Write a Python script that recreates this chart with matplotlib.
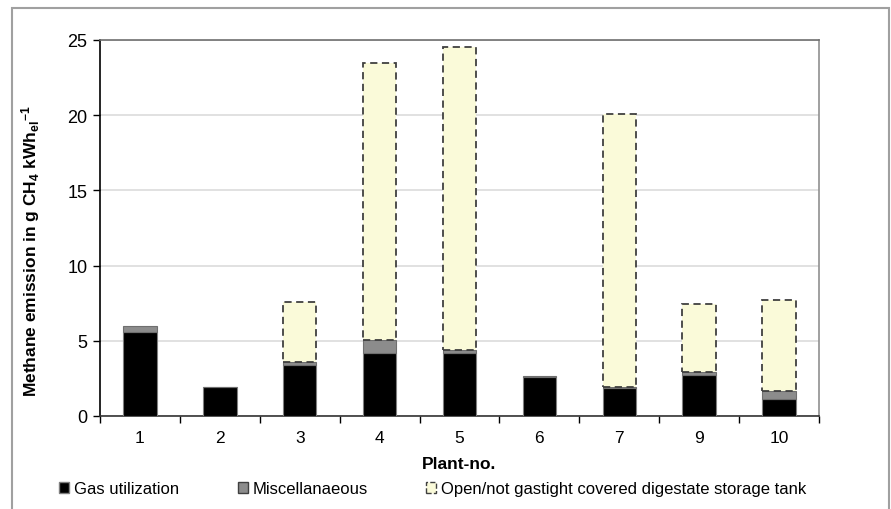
import numpy as np
import matplotlib.pyplot as plt
from matplotlib.patches import Patch, Rectangle

plt.rcParams['font.family'] = ['Liberation Sans', 'DejaVu Sans']
plt.rcParams['mathtext.fontset'] = 'custom'
plt.rcParams['mathtext.rm'] = 'Liberation Sans:bold'
plt.rcParams['mathtext.bf'] = 'Liberation Sans:bold'
plt.rcParams['mathtext.it'] = 'Liberation Sans:bold'

# methane emission per plant, g CH4 per kWh_el
plants = ['1', '2', '3', '4', '5', '6', '7', '9', '10']
gas_utilization = [5.6, 1.9, 3.4, 4.2, 4.2, 2.6, 1.85, 2.75, 1.15]
miscellaneous = [0.4, 0.05, 0.2, 0.85, 0.22, 0.05, 0.05, 0.15, 0.5]
storage_tank = [0.0, 0.0, 3.95, 18.4, 20.1, 0.0, 18.2, 4.55, 6.05]

x = np.arange(len(plants))
w = 0.42

fig = plt.figure(figsize=(8.91, 5.10), dpi=100)
ax = fig.add_axes([100/891, 1 - 417/510, 719/891, 376/510])

# chart frame
fig.patches.append(Rectangle((12/891, -0.05), 877/891, 1.05 - 9/510, transform=fig.transFigure,
                             fill=False, edgecolor='#a0a0a0', linewidth=1.5))

ax.bar(x, gas_utilization, w, color='black', edgecolor='#7f7f7f', linewidth=0.8, zorder=3)
ax.bar(x, miscellaneous, w, bottom=gas_utilization, color='#8c8c8c',
       edgecolor='#6f6f6f', linewidth=0.8, zorder=3)
bottom2 = np.array(gas_utilization) + np.array(miscellaneous)
mask = np.array(storage_tank) > 0
ax.bar(x[mask], np.array(storage_tank)[mask], w, bottom=bottom2[mask], color='#fafad9',
       edgecolor='#404040', linewidth=1.3, linestyle=(0, (4, 2.5)), zorder=3)

ax.set_xlim(-0.5, len(plants) - 0.5)
ax.set_ylim(0, 25)
ax.set_yticks(range(0, 26, 5))
ax.yaxis.grid(True, color='#dcdcdc', linewidth=1.2, zorder=0)
ax.set_axisbelow(True)

ax.set_xticks(x)
ax.set_xticklabels(plants)
ax.set_xticks(np.arange(-0.5, len(plants)), minor=True)
ax.tick_params(axis='x', which='major', length=0, pad=10, labelsize=12.5)
ax.tick_params(axis='x', which='minor', length=5, width=1, color='black')
ax.tick_params(axis='y', length=5, width=1, labelsize=13, pad=4)

ax.spines['left'].set_color('black')
ax.spines['bottom'].set_color('#333333')
ax.spines['top'].set_color('#707070')
ax.spines['right'].set_color('#909090')
for s in ax.spines.values():
    s.set_linewidth(1.2)

ax.set_xlabel('Plant-no.', fontsize=12.5, fontweight='bold', labelpad=8)
ax.set_ylabel(r'Methane emission in g CH$_\mathbf{4}$ kWh$_\mathbf{el}$$^\mathbf{-1}$',
              fontsize=12.5, fontweight='bold')
ax.yaxis.set_label_coords(-0.08, 0.44)

handles = [Patch(facecolor='black', edgecolor='#7f7f7f'),
           Patch(facecolor='#8c8c8c', edgecolor='#404040'),
           Patch(facecolor='#fafad9', edgecolor='#404040', linestyle='--')]
labels = ['Gas utilization', 'Miscellanaeous', 'Open/not gastight covered digestate storage tank']
fig.legend(handles, labels, ncol=3, loc='center', bbox_to_anchor=(433/891, 1 - 490/510),
           frameon=False, fontsize=12, handlelength=0.6, handleheight=0.6,
           handletextpad=0.3, columnspacing=3.5)

plt.savefig('out.png', dpi=100)
